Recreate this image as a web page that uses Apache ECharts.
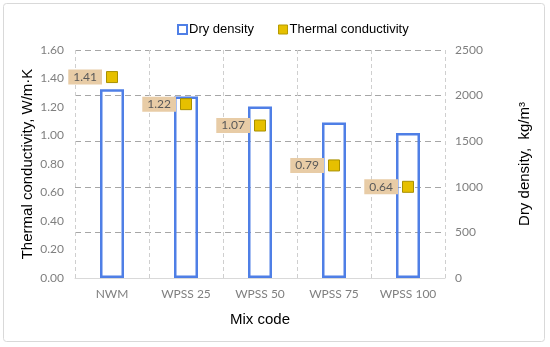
<!DOCTYPE html>
<html>
<head>
<meta charset="utf-8">
<script src="https://cdn.jsdelivr.net/npm/echarts@6/dist/echarts.min.js"></script>
<style>
html,body{margin:0;padding:0;background:#fff;}
#c{width:550px;height:347px;}
</style>
</head>
<body>
<div id="c"></div>
<script>
var categories = ['NWM', 'WPSS 25', 'WPSS 50', 'WPSS 75', 'WPSS 100'];
var dryDensity = [2070, 1990, 1880, 1705, 1590];
var thermalConductivity = [1.41, 1.22, 1.07, 0.79, 0.64];

var chart = echarts.init(document.getElementById('c'), null, {renderer: 'canvas'});
var tickFont = 'Lato, "Open Sans", sans-serif';
var titleFont = '"Liberation Sans", Arial, sans-serif';

chart.setOption({
  animation: false,
  backgroundColor: '#fff',
  graphic: [{
    type: 'rect',
    shape: {x: 3.5, y: 3.5, width: 541, height: 338, r: 3},
    style: {fill: 'none', stroke: '#d9d9d9', lineWidth: 1},
    silent: true
  }],
  legend: {
    top: 18,
    left: 172,
    itemGap: 24,
    itemWidth: 9,
    itemHeight: 9,
    textStyle: {fontFamily: titleFont, fontSize: 13, color: '#000', padding: [0, 0, 0, -3]},
    data: [
      {name: 'Dry density', icon: 'rect', itemStyle: {color: '#fff', borderColor: '#4f7fe6', borderWidth: 2}},
      {name: 'Thermal conductivity', icon: 'rect', itemStyle: {color: '#e6c000', borderColor: '#b59a00', borderWidth: 1}}
    ]
  },
  grid: {left: 75, right: 105, top: 50, bottom: 69},
  xAxis: {
    type: 'category',
    data: categories,
    name: 'Mix code',
    nameLocation: 'middle',
    nameGap: 34,
    nameTextStyle: {fontFamily: titleFont, fontSize: 15, color: '#000'},
    axisLine: {show: true, lineStyle: {color: '#d9d9d9'}},
    axisTick: {show: false},
    axisLabel: {fontFamily: tickFont, fontSize: 12, color: '#7f7f7f', margin: 10},
    splitLine: {show: true, lineStyle: {color: '#cfcfcf', type: [4, 3], width: 1}}
  },
  yAxis: [{
    type: 'value',
    min: 0, max: 1.6, interval: 0.2,
    name: 'Thermal conductivity, W/m\u00b7K',
    nameLocation: 'middle',
    nameGap: 40,
    nameMoveOverlap: false,
    nameTextStyle: {fontFamily: titleFont, fontSize: 15, color: '#000'},
    axisLine: {show: false},
    axisTick: {show: false},
    axisLabel: {fontFamily: tickFont, fontSize: 12, color: '#7f7f7f', margin: 11,
      formatter: function (v) { return v.toFixed(2); }},
    splitLine: {show: false}
  }, {
    type: 'value',
    min: 0, max: 2500, interval: 500,
    name: 'Dry density,  kg/m\u00b3',
    nameLocation: 'middle',
    nameGap: 72,
    nameRotate: 90,
    nameMoveOverlap: false,
    nameTextStyle: {fontFamily: titleFont, fontSize: 15, color: '#000'},
    axisLine: {show: false},
    axisTick: {show: false},
    axisLabel: {fontFamily: tickFont, fontSize: 12, color: '#7f7f7f', margin: 10,
      formatter: function (v) { return String(v); }},
    splitLine: {show: true, lineStyle: {color: '#a6a6a6', type: [6, 4], width: 1}}
  }],
  series: [{
    name: 'Dry density',
    type: 'bar',
    yAxisIndex: 1,
    data: dryDensity,
    barWidth: 24,
    itemStyle: {color: 'rgba(255,255,255,0)', borderColor: '#4f7fe6', borderWidth: 2.5},
    z: 2
  }, {
    name: 'Thermal conductivity',
    type: 'scatter',
    yAxisIndex: 0,
    data: thermalConductivity,
    symbol: 'rect',
    symbolSize: 11,
    itemStyle: {color: '#e6c000', borderColor: '#a89000', borderWidth: 1, opacity: 1},
    label: {
      show: true,
      position: 'left',
      distance: 4,
      fontFamily: tickFont,
      fontSize: 12,
      color: '#595959',
      backgroundColor: '#e8cca6',
      padding: [2, 5, 1, 5],
      formatter: function (p) { return p.value.toFixed(2); }
    },
    z: 5
  }]
});
</script>
</body>
</html>
